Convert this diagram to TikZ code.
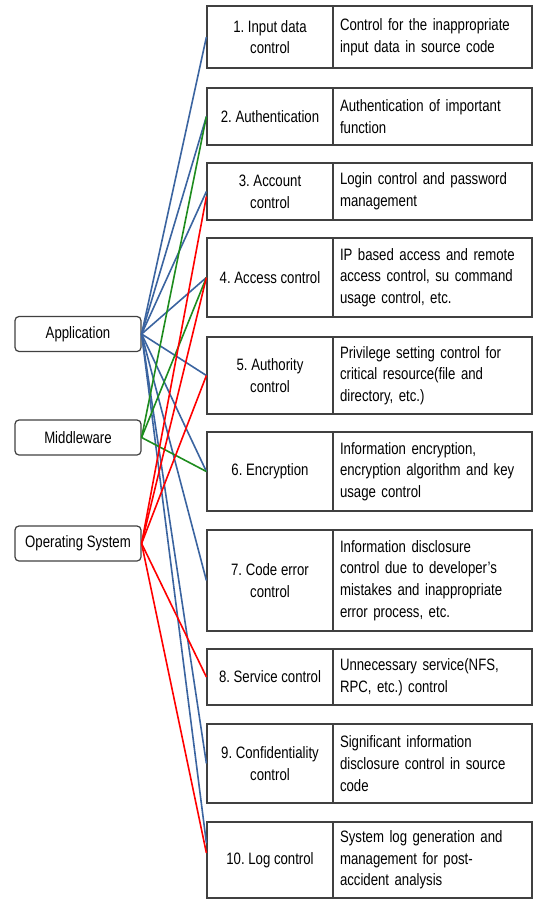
\documentclass[tikz,border=0pt]{standalone}
\usepackage{fontspec}
\setmainfont{Liberation Sans}[FakeStretch=0.8]
\usepackage{xcolor}
\usepackage{tikz}
\usetikzlibrary{positioning,calc}
\definecolor{appblue}{RGB}{59,100,160}
\definecolor{midgreen}{RGB}{30,140,30}
\definecolor{osred}{RGB}{255,0,0}
\frenchspacing

\begin{document}
\begin{tikzpicture}[
  x=1pt, y=-1pt,
  font=\fontsize{16.5}{21.7}\selectfont,
  layer/.style={draw=black!75, line width=1.2pt, rounded corners=4pt, minimum width=126pt, minimum height=35pt, inner sep=0pt},
  item/.style={draw=black!75, line width=1.2pt, align=center, minimum width=126pt, inner sep=0pt},
  desc/.style={draw=black!75, line width=1.2pt, align=left, text width=185pt, inner xsep=7pt, inner ysep=0pt},
  app/.style={draw=appblue, line width=1.6pt},
  mid/.style={draw=midgreen, line width=1.6pt},
  os/.style={draw=osred, line width=1.6pt}]
\useasboundingbox (0,0) rectangle (535,901);
% layers
\node[layer] (app) at (78,334) {Application};
\node[layer] (mid) at (78,437.5) {Middleware};
\node[layer] (os) at (78,543.5) {Operating System};
% controls
\node[item, minimum height=62pt] (c1) at (270,37) {1. Input data\\control};
\node[desc, minimum height=62pt] (d1) at (432.5,37) {Control for the inappropriate\\input data in source code};
\node[item, minimum height=57pt] (c2) at (270,116.5) {2. Authentication};
\node[desc, minimum height=57pt] (d2) at (432.5,116.5) {Authentication of important\\function};
\node[item, minimum height=57pt] (c3) at (270,191.5) {3. Account\\control};
\node[desc, minimum height=57pt] (d3) at (432.5,191.5) {Login control and password\\management};
\node[item, minimum height=79pt] (c4) at (270,277.5) {4. Access control};
\node[desc, minimum height=79pt] (d4) at (432.5,277.5) {IP based access and remote\\access control, su command\\usage control, etc.};
\node[item, minimum height=77pt] (c5) at (270,375.5) {5. Authority\\control};
\node[desc, minimum height=77pt] (d5) at (432.5,375.5) {Privilege setting control for\\critical resource(file and\\directory, etc.)};
\node[item, minimum height=79pt] (c6) at (270,471.5) {6. Encryption};
\node[desc, minimum height=79pt] (d6) at (432.5,471.5) {Information encryption,\\encryption algorithm and key\\usage control};
\node[item, minimum height=101pt] (c7) at (270,580.5) {7. Code error\\control};
\node[desc, minimum height=101pt] (d7) at (432.5,580.5) {Information disclosure\\control due to developer's\\mistakes and inappropriate\\error process, etc.};
\node[item, minimum height=56pt] (c8) at (270,677) {8. Service control};
\node[desc, minimum height=56pt] (d8) at (432.5,677) {Unnecessary service(NFS,\\RPC, etc.) control};
\node[item, minimum height=79pt] (c9) at (270,763.5) {9. Confidentiality\\control};
\node[desc, minimum height=79pt] (d9) at (432.5,763.5) {Significant information\\disclosure control in source\\code};
\node[item, minimum height=76pt] (c10) at (270,860) {10. Log control};
\node[desc, minimum height=76pt] (d10) at (432.5,860) {System log generation and\\management for post-\\accident analysis};
% application links
\draw[app] (app.east) -- (c1.west);
\draw[app] (app.east) -- (c2.west);
\draw[app] (app.east) -- (c3.west);
\draw[app] (app.east) -- (c4.west);
\draw[app] (app.east) -- (c5.west);
\draw[app] (app.east) -- (c6.west);
\draw[app] (app.east) -- (c7.west);
\draw[app] (app.east) -- (c9.west);
\draw[app] (app.east) -- ([yshift=17pt]c10.west);
% middleware links
\draw[mid] (mid.east) -- (c2.west);
\draw[mid] (mid.east) -- (c4.west);
\draw[mid] (mid.east) -- (c6.west);
% operating system links
\draw[os] (os.east) -- ([yshift=-5pt]c3.west);
\draw[os] (os.east) -- (c4.west);
\draw[os] (os.east) -- (c5.west);
\draw[os] (os.east) -- (c8.west);
\draw[os] (os.east) -- ([yshift=7pt]c10.west);
\end{tikzpicture}
\end{document}
